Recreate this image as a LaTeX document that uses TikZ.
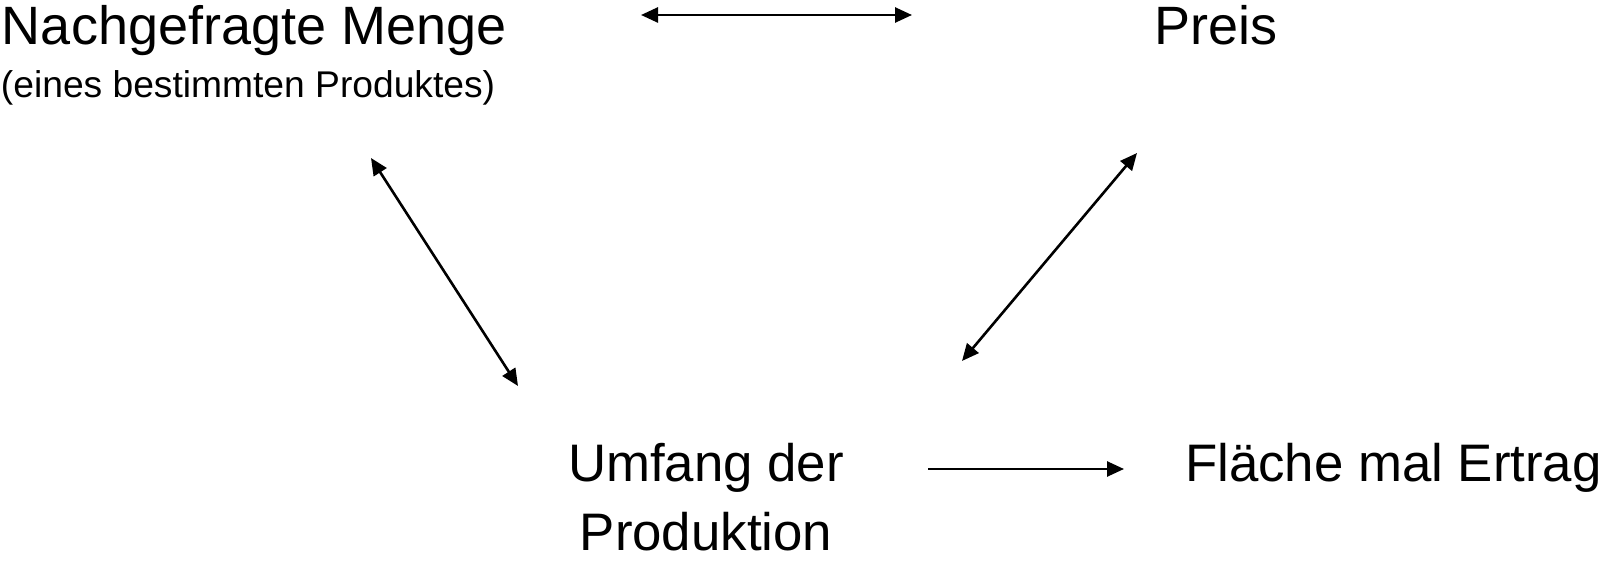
\documentclass[tikz,border=0pt]{standalone}
\usepackage{fontspec}
\setmainfont{Liberation Sans}
\usetikzlibrary{arrows.meta}

\tikzset{
  big/.style={inner sep=0pt, outer sep=0pt, font=\fontsize{27}{32.5}\selectfont},
  label/.style={inner sep=0pt, outer sep=0pt, font=\fontsize{26.4}{34.5}\selectfont},
  small/.style={inner sep=0pt, outer sep=0pt, font=\fontsize{18.6}{22}\selectfont},
  link/.style={line width=1.3pt, {Triangle[length=8.5pt,width=7.5pt]}-{Triangle[length=8.5pt,width=7.5pt]}},
  onto/.style={line width=1.3pt, -{Triangle[length=8.5pt,width=7.5pt]}}
}

\begin{document}
\begin{tikzpicture}[x=0.5pt, y=-0.5pt]
  \useasboundingbox (0,0) rectangle (1604,561);

  % texts
  \node[big, anchor=base west] (menge) at (2,45) {Nachgefragte Menge};
  \node[small, anchor=base west] (produkt) at (1,98) {(eines bestimmten Produktes)};
  \node[big, anchor=base west] (preis) at (1154,45) {Preis};
  \node[label, anchor=base, align=center] (umfang) at (706,550) {Umfang der\\Produktion};
  \node[label, anchor=base west] (flaeche) at (1185,481) {Fläche mal Ertrag};

  % arrow end points
  \coordinate (mp1) at (641,15);
  \coordinate (mp2) at (912,15);
  \coordinate (mu1) at (371,158);
  \coordinate (mu2) at (518,386);
  \coordinate (pu1) at (1137,153);
  \coordinate (pu2) at (962,361);
  \coordinate (uf1) at (928,469);
  \coordinate (uf2) at (1124,469);

  % connectors
  \draw[link] (mp1) -- (mp2);
  \draw[link] (mu1) -- (mu2);
  \draw[link] (pu1) -- (pu2);
  \draw[onto] (uf1) -- (uf2);
\end{tikzpicture}
\end{document}
